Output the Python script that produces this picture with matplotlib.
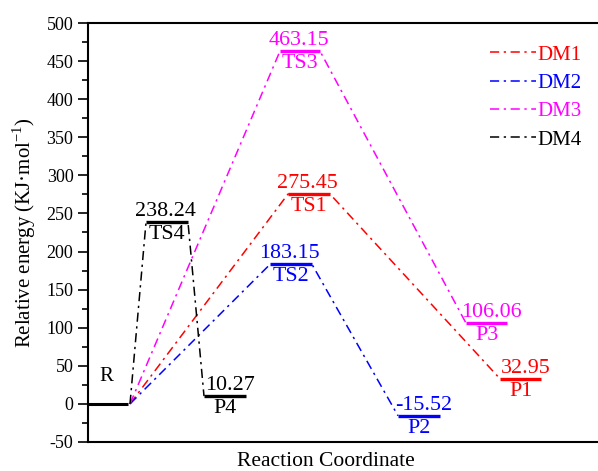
import matplotlib
matplotlib.use("Agg")
import matplotlib.pyplot as plt

plt.rcParams['font.family'] = ['Liberation Serif', 'DejaVu Serif']
plt.rcParams['mathtext.fontset'] = 'custom'
plt.rcParams['mathtext.rm'] = 'Liberation Serif'
plt.rcParams['axes.unicode_minus'] = False

# ---- data ----
series_names = ["DM1", "DM2", "DM3", "DM4"]
series_colors = ["#ff0000", "#0000ff", "#ff00ff", "#000000"]
ts_labels = ["TS1", "TS2", "TS3", "TS4"]
p_labels = ["P1", "P2", "P3", "P4"]
ts_energy = [275.45, 183.15, 463.15, 238.24]
p_energy = [32.95, -15.52, 106.06, 10.27]
r_energy = 0.0

# ---- layout (x positions of levels, in axis units) ----
r_span = (0, 40)
ts_span = [(200, 242), (182, 224), (192, 232), (58, 100)]
p_span = [(412, 453), (310, 352), (378, 419), (116, 158)]

fig = plt.figure(figsize=(5.98, 4.71), dpi=100)
ax = fig.add_axes([88/598, 29/471, 512/598, 419/471])
ax.set_xlim(0, 512)
ax.set_ylim(-50, 500)

ls = (0, (6, 3, 1.5, 3))
lab_fs = 15.8

# reactant level
ax.plot(r_span, [r_energy, r_energy], color='black', lw=2.2, solid_capstyle='butt')
ax.text(18, 36, "R", ha='center', va='center', fontsize=15)

for i in range(4):
    c = series_colors[i]
    t0, t1 = ts_span[i]
    p0, p1 = p_span[i]
    ax.plot([r_span[1] + 2, t0, t1, p0], [r_energy, ts_energy[i], ts_energy[i], p_energy[i]],
            color=c, lw=1.1, linestyle=ls, label=series_names[i])
    ax.plot([t0, t1], [ts_energy[i]] * 2, color=c, lw=2.4, solid_capstyle='butt')
    ax.plot([p0, p1], [p_energy[i]] * 2, color=c, lw=2.4, solid_capstyle='butt')
    for (a, b), e, name, dx in [((t0, t1), ts_energy[i], ts_labels[i], -1),
                                ((p0, p1), p_energy[i], p_labels[i], 3.5)]:
        xc = (a + b) / 2
        ax.annotate(f"{e:.2f}", (xc, e), xytext=(dx, 0.8), textcoords='offset points',
                    ha='center', va='bottom', color=c, fontsize=lab_fs)
        ax.annotate(name, (xc, e), xytext=(0, -2), textcoords='offset points',
                    ha='center', va='top', color=c, fontsize=lab_fs)

ax.set_yticks(range(-50, 501, 50))
ax.set_yticks(range(-50, 501, 25), minor=True)
ax.set_xticks([])
ax.tick_params(axis='y', which='major', direction='out', length=7, width=1.2, labelsize=13)
ax.tick_params(axis='y', which='minor', direction='out', length=4, width=1.2)
for s in ['left', 'top', 'bottom']:
    ax.spines[s].set_linewidth(1.5)
ax.spines['right'].set_visible(False)

ax.set_ylabel("Relative energy (KJ·mol$^{\\mathregular{-1}}$)", fontsize=15, labelpad=6)
fig.text(326/598, 1 - 462/471, "Reaction Coordinate", ha='center', va='center', fontsize=15.5)

leg = ax.legend(loc='upper left', bbox_to_anchor=(490/598, 1 - 45/471), bbox_transform=fig.transFigure,
                frameon=False, fontsize=15, handlelength=2.2, handletextpad=0.05,
                labelspacing=0.42, borderpad=0, borderaxespad=0, labelcolor='linecolor')

fig.savefig("out.png", dpi=100)
